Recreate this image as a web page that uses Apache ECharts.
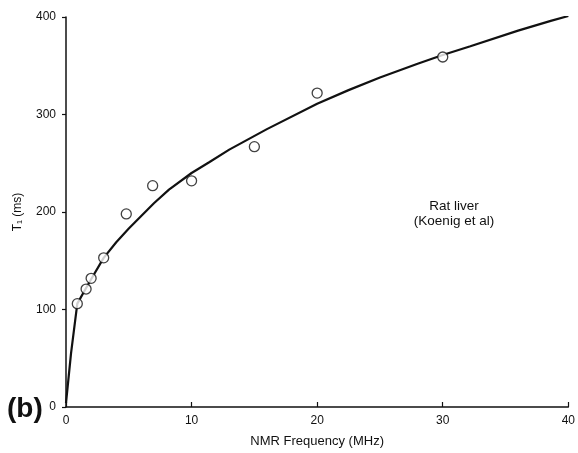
<!DOCTYPE html>
<html>
<head>
<meta charset="utf-8">
<script src="https://cdn.jsdelivr.net/npm/echarts@6/dist/echarts.min.js"></script>
<style>html,body{margin:0;padding:0;background:#fff;}#c{width:578px;height:453px;}</style>
</head>
<body>
<div id="c"></div>
<script>
// Measured data points (NMR frequency MHz, T1 ms)
var pointFreq = [0.9, 1.6, 2, 3, 4.8, 6.9, 10, 15, 20, 30];
var pointT1 = [106, 121, 132, 153, 198, 227, 232, 267, 322, 359];
// Fitted curve
var curveFreq = [0, 0.4, 0.9, 1.6, 2, 3, 4, 5, 7, 8.2, 10, 11.4, 13, 16, 20, 22.5, 25, 28, 30, 32.2, 36, 38.6, 40];
var curveT1 = [4, 55, 106, 122, 131, 153, 169, 183, 209, 223, 240, 251, 264, 285, 311, 325, 338, 352, 361, 370, 386, 396, 401];
var xTicks = [0, 10, 20, 30, 40];
var yTicks = [0, 100, 200, 300, 400];

var chart = echarts.init(document.getElementById('c'), null, {renderer: 'canvas'});
var font = '"Liberation Sans", Arial, sans-serif';
chart.setOption({
  animation: false,
  backgroundColor: '#fff',
  grid: {left: 66, right: 7, top: 17, bottom: 46, containLabel: false},
  xAxis: {
    type: 'value', min: xTicks[0], max: xTicks[xTicks.length - 1], interval: 10,
    name: 'NMR Frequency (MHz)', nameLocation: 'middle', nameGap: 28,
    nameTextStyle: {color: '#111', fontSize: 13, fontFamily: font},
    axisLine: {lineStyle: {color: '#111', width: 1.5}},
    axisTick: {inside: true, length: 5, lineStyle: {color: '#111', width: 1.2}},
    axisLabel: {color: '#111', fontSize: 12, fontFamily: font, margin: 8},
    splitLine: {show: false}
  },
  yAxis: {
    type: 'value', min: yTicks[0], max: yTicks[yTicks.length - 1], interval: 100,
    name: 'T\u2081 (ms)', nameLocation: 'middle', nameGap: 42,
    nameTextStyle: {color: '#111', fontSize: 12, fontFamily: font},
    axisLine: {lineStyle: {color: '#111', width: 1.5}},
    axisTick: {inside: false, length: 4, lineStyle: {color: '#111', width: 1.2}},
    axisLabel: {color: '#111', fontSize: 12, fontFamily: font, margin: 10},
    splitLine: {show: false}
  },
  graphic: [
    {type: 'text', left: 7, top: 395, style: {text: '(b)', fill: '#111', font: 'bold 28px ' + font}},
    {type: 'text', x: 454, y: 214, style: {text: 'Rat liver\n(Koenig et al)', fill: '#111', font: '13.5px ' + font, align: 'center', verticalAlign: 'middle', lineHeight: 15}}
  ],
  series: [
    {
      type: 'line', data: curveFreq.map(function (f, i) { return [f, curveT1[i]]; }),
      showSymbol: false, smooth: false,
      lineStyle: {color: '#111', width: 2.2}, z: 2
    },
    {
      type: 'scatter', data: pointFreq.map(function (f, i) { return [f, pointT1[i]]; }),
      symbol: 'circle', symbolSize: 10,
      itemStyle: {color: '#fff', borderColor: '#111', borderWidth: 1.3}, z: 3
    }
  ]
});
</script>
</body>
</html>
